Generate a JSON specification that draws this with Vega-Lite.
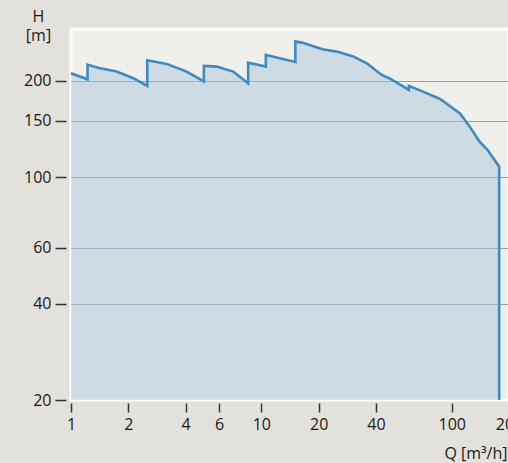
{
  "$schema": "https://vega.github.io/schema/vega-lite/v6.json",
  "width": 438,
  "height": 371,
  "autosize": {"type": "none"},
  "padding": {"left": 71, "top": 29, "right": 0, "bottom": 63},
  "background": "#e2e1db",
  "config": {
    "view": {"fill": "#efefeb", "stroke": "#ffffff", "strokeWidth": 3},
    "font": "Open Sans",
    "axis": {
      "labelFont": "Open Sans",
      "titleFont": "Open Sans",
      "labelFontSize": 16,
      "titleFontSize": 16,
      "labelColor": "#1a1a1a",
      "titleColor": "#1a1a1a",
      "titleFontWeight": "normal",
      "tickColor": "#333333",
      "tickWidth": 1.5,
      "domain": false
    }
  },
  "data": {
    "values": [
      {"i": 1, "q": 1.0, "h": 211.4},
      {"i": 2, "q": 1.221, "h": 202.4},
      {"i": 3, "q": 1.221, "h": 225.0},
      {"i": 4, "q": 1.42, "h": 219.3},
      {"i": 5, "q": 1.738, "h": 214.0},
      {"i": 6, "q": 2.124, "h": 204.0},
      {"i": 7, "q": 2.515, "h": 192.9},
      {"i": 8, "q": 2.515, "h": 232.3},
      {"i": 9, "q": 3.18, "h": 226.2},
      {"i": 10, "q": 4.05, "h": 214.0},
      {"i": 11, "q": 4.99, "h": 199.3},
      {"i": 12, "q": 4.99, "h": 222.9},
      {"i": 13, "q": 5.82, "h": 221.8},
      {"i": 14, "q": 7.11, "h": 214.0},
      {"i": 15, "q": 8.526, "h": 196.7},
      {"i": 16, "q": 8.526, "h": 228.3},
      {"i": 17, "q": 10.56, "h": 221.8},
      {"i": 18, "q": 10.56, "h": 241.3},
      {"i": 19, "q": 15.09, "h": 229.4},
      {"i": 20, "q": 15.09, "h": 265.7},
      {"i": 21, "q": 16.37, "h": 263.8},
      {"i": 22, "q": 20.9, "h": 251.4},
      {"i": 23, "q": 24.9, "h": 247.2},
      {"i": 24, "q": 30.4, "h": 238.8},
      {"i": 25, "q": 35.8, "h": 227.2},
      {"i": 26, "q": 42.9, "h": 208.8},
      {"i": 27, "q": 47.5, "h": 203.3},
      {"i": 28, "q": 59.6, "h": 187.4},
      {"i": 29, "q": 59.6, "h": 192.9},
      {"i": 30, "q": 69.6, "h": 185.8},
      {"i": 31, "q": 86.8, "h": 175.6},
      {"i": 32, "q": 110.6, "h": 158.3},
      {"i": 33, "q": 123.6, "h": 144.6},
      {"i": 34, "q": 140.8, "h": 128.6},
      {"i": 35, "q": 154.5, "h": 121.5},
      {"i": 36, "q": 177.6, "h": 107.7},
      {"i": 37, "q": 177.6, "h": 20}
    ]
  },
  "encoding": {
    "x": {
      "field": "q",
      "type": "quantitative",
      "scale": {"type": "log", "domain": [1, 200], "nice": false},
      "axis": {
        "values": [1, 2, 4, 6, 10, 20, 40, 100, 200],
        "grid": false,
        "offset": 3,
        "tickSize": 9,
        "labelPadding": 4,
        "labelFlush": false,
        "title": "Q [m³/h]",
        "titleAnchor": "end",
        "titleAlign": "right",
        "titleX": 436,
        "titleY": 58,
        "titleBaseline": "bottom"
      }
    },
    "y": {
      "field": "h",
      "type": "quantitative",
      "stack": null,
      "scale": {"type": "log", "domain": [20, 291], "nice": false},
      "axis": {
        "values": [20, 40, 60, 100, 150, 200],
        "grid": true,
        "gridColor": "#9aa0a4",
        "gridWidth": 1.2,
        "gridOpacity": {"condition": {"test": "datum.value == 20", "value": 0}, "value": 1},
        "offset": 5,
        "tickSize": 11,
        "labelPadding": 4,
        "labelFlush": false,
        "title": ["H", "[m]"],
        "titleAngle": 0,
        "titleAlign": "center",
        "titleBaseline": "top",
        "titleX": -28,
        "titleY": -21,
        "titleLineHeight": 19
      }
    }
  },
  "layer": [
    {
      "mark": {"type": "area", "orient": "vertical", "color": "#a9c3d8", "fillOpacity": 0.45},
      "encoding": {"y2": {"datum": 20}}
    },
    {
      "mark": {"type": "line", "color": "#3a8bc6", "strokeWidth": 2.6, "strokeJoin": "miter"},
      "encoding": {"order": {"field": "i", "type": "quantitative"}}
    }
  ]
}
